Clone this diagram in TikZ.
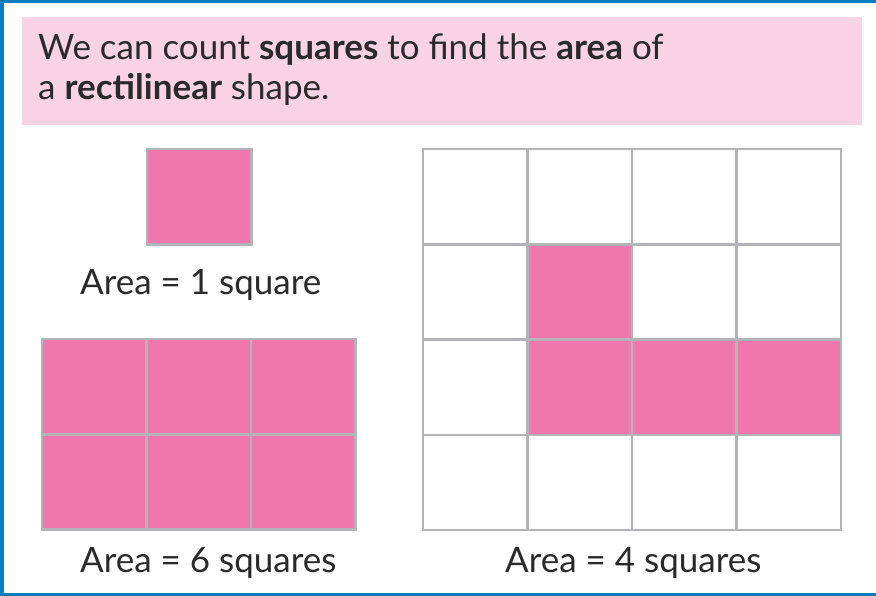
\documentclass[tikz,border=0pt]{standalone}
\usepackage{fontspec}
\setmainfont{Lato}
\usetikzlibrary{positioning}

\definecolor{frameblue}{HTML}{0A7DBE}
\definecolor{headpink}{HTML}{F9D3E4}
\definecolor{cellpink}{HTML}{F077AB}
\definecolor{gridgrey}{HTML}{B4B4B8}
\definecolor{inkgrey}{HTML}{2A2A2A}

\newcommand*{\cellw}{104.5}
\newcommand*{\cellh}{95.3}

\tikzset{
	cell/.style={draw=gridgrey, line width=2.5pt, minimum width=\cellw pt, minimum height=\cellh pt,
		inner sep=0pt, outer sep=0pt, anchor=north west},
	words/.style={text=inkgrey, font=\fontsize{35}{42}\selectfont, inner sep=0pt, anchor=base west},
}

\begin{document}
\begin{tikzpicture}[x=1pt,y=1pt]

	\useasboundingbox (0,0) rectangle (876,596);

	% frame
	\fill[frameblue] (0,0) rectangle (4,596);
	\fill[frameblue] (0,593) rectangle (876,596);
	\fill[frameblue] (0,0) rectangle (876,3);

	% heading
	\fill[headpink] (22,471) rectangle (862,579);
	\node[words] (line1) at (38,536) {We can count \textbf{squares} to find the \textbf{area} of};
	\node[words] (line2) at (38,496) {a \textbf{rectilinear} shape.};

	% one square
	\node[cell, fill=cellpink] (one) at (147,447) {};
	\node[words] (one-label) at (80,301) {Area = 1 square};

	% six squares
	\foreach \r in {0,1}
		\foreach \c in {0,1,2}
			\node[cell, fill=cellpink] (six-\r-\c) at (42+\c*\cellw, 257-\r*\cellh) {};
	\node[words] (six-label) at (80,23) {Area = 6 squares};

	% rectilinear shape on a 4 by 4 grid
	\foreach \r/\row in {0/{white,white,white,white},1/{white,cellpink,white,white},
			2/{white,cellpink,cellpink,cellpink},3/{white,white,white,white}}
		\foreach \f [count=\c from 0] in \row
			\node[cell, fill=\f] (grid-\r-\c) at (423+\c*\cellw, 447-\r*\cellh) {};
	\node[words] (grid-label) at (505,23) {Area = 4 squares};

\end{tikzpicture}
\end{document}
